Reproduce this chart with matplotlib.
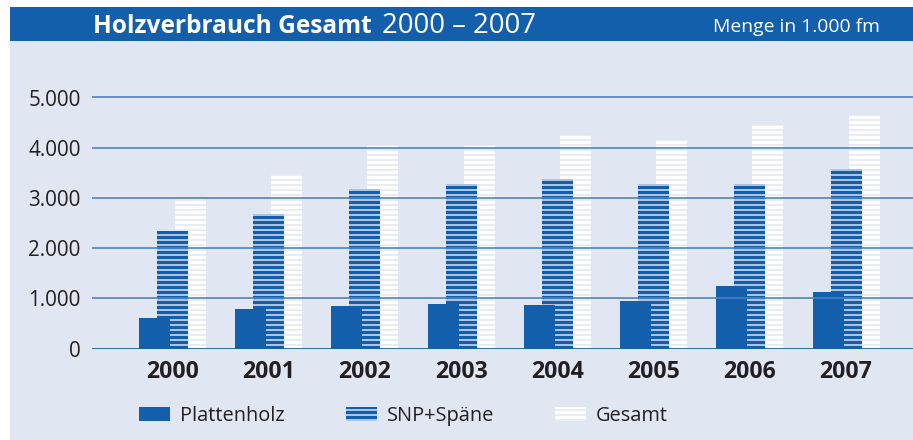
import matplotlib
matplotlib.use('Agg')
import matplotlib.pyplot as plt
from matplotlib.patches import Rectangle
import numpy as np

# Werte in 1.000 fm
jahre = ['2000', '2001', '2002', '2003', '2004', '2005', '2006', '2007']
plattenholz = [600, 780, 840, 880, 860, 940, 1240, 1120]
snp_spaene = [2350, 2670, 3170, 3270, 3370, 3270, 3270, 3570]
gesamt = [2970, 3470, 4060, 4060, 4260, 4160, 4460, 4660]
y_ticks = [0, 1000, 2000, 3000, 4000, 5000]
y_tick_labels = ['0', '1.000', '2.000', '3.000', '4.000', '5.000']

BLAU = '#145fab'
HG = '#e1e7f2'
TEXT = '#231f20'

DPI = 90
W, H = 913, 440
plt.rcParams['font.family'] = ['Open Sans', 'DejaVu Sans']
plt.rcParams['hatch.linewidth'] = 2.8

fig = plt.figure(figsize=(W / DPI, H / DPI), dpi=DPI, facecolor='white')

# Hintergrund und Titelband
fig.patches.append(Rectangle((10 / W, 0), 1 - 10 / W, 1 - 7 / H, transform=fig.transFigure,
                             facecolor=HG, edgecolor='none', zorder=-10))
fig.patches.append(Rectangle((10 / W, 1 - 41 / H), 1 - 10 / W, 34 / H, transform=fig.transFigure,
                             facecolor=BLAU, edgecolor='none', zorder=-9))
fig.text(93 / W, 1 - 33 / H, 'Holzverbrauch Gesamt', color='white', fontsize=19.6,
         fontweight='bold', va='baseline', ha='left')
fig.text(382 / W, 1 - 33 / H, '2000 – 2007', color='white', fontsize=22,
         va='baseline', ha='left')
fig.text(880 / W, 1 - 31.5 / H, 'Menge in 1.000 fm', color='white', fontsize=15.5,
         va='baseline', ha='right')

# Achse
ymax = 5300
y0_px, y5000_px = 348.5, 97.5
top_px = y0_px - (y0_px - y5000_px) * ymax / 5000
ax = fig.add_axes([92 / W, (H - y0_px) / H, 1 - 92 / W, (y0_px - top_px) / H])
ax.set_facecolor('none')

x = np.arange(len(jahre))
breite = 0.322
versatz = 0.187

ax.bar(x + versatz, gesamt, breite, facecolor=HG, edgecolor='white', linewidth=0,
       hatch='---', label='Gesamt', zorder=2)
ax.bar(x, snp_spaene, breite, facecolor=HG, edgecolor=BLAU, linewidth=0,
       hatch='---', label='SNP+Späne', zorder=3)
ax.bar(x - versatz, plattenholz, breite, color=BLAU, linewidth=0,
       label='Plattenholz', zorder=4)

for yv in y_ticks[1:]:
    ax.axhline(yv, color='#4a80c4', linewidth=1.3, zorder=5)
ax.axhline(0, color=BLAU, linewidth=2.2, zorder=6)

ax.set_xlim(-0.837, 7.696)
ax.set_ylim(0, ymax)
ax.set_yticks(y_ticks)
ax.set_yticklabels(y_tick_labels, fontsize=16.5, color=TEXT)
ax.set_xticks(x)
ax.set_xticklabels(jahre, fontsize=18.5, fontweight='bold', color=TEXT)
ax.tick_params(axis='y', length=0, pad=9)
ax.tick_params(axis='x', length=0, pad=9)
for s in ax.spines.values():
    s.set_visible(False)

# Legende
handles, labels = ax.get_legend_handles_labels()
order = [2, 1, 0]
fs = 16
px = fs * DPI / 72
fig.legend([handles[i] for i in order], [labels[i] for i in order],
           loc='center left', bbox_to_anchor=(139 / W, 1 - 416 / H), ncol=3,
           frameon=False, fontsize=fs, handlelength=31 / px, handleheight=13 / px,
           handletextpad=10 / px, columnspacing=61 / px, borderaxespad=0,
           borderpad=0, labelcolor=TEXT)

fig.savefig('out.png', dpi=DPI, facecolor='white')
